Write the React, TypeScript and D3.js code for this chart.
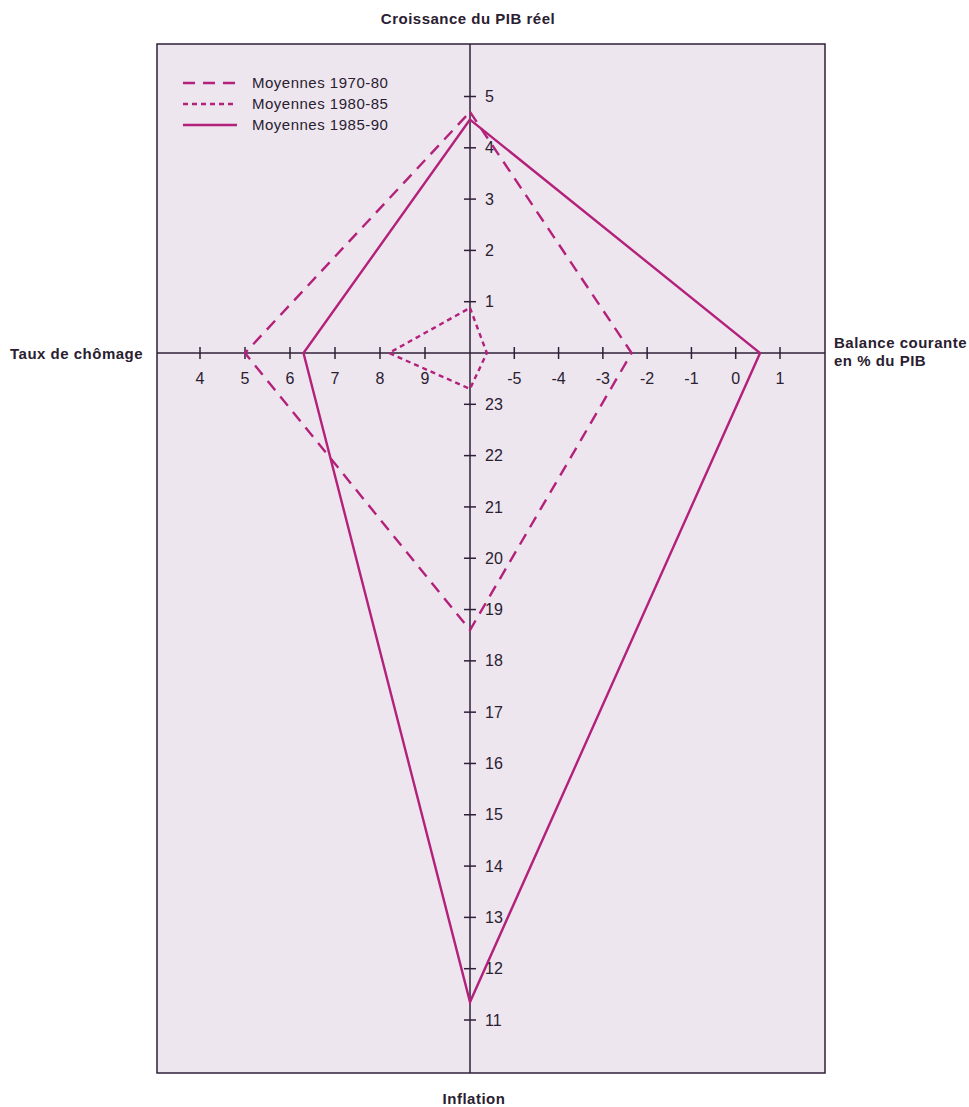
import React from "react";
import * as d3 from "d3";

const seriesNames = ["Moyennes 1970-80", "Moyennes 1980-85", "Moyennes 1985-90"];
const growth = [4.7, 0.88, 4.55];
const balance = [-2.35, -5.62, 0.55];
const inflation = [18.6, 23.3, 11.35];
const unemployment = [5.0, 8.2, 6.3];

const growthTicks = [1, 2, 3, 4, 5];
const unempTicks = [4, 5, 6, 7, 8, 9];
const balanceTicks = [-5, -4, -3, -2, -1, 0, 1];
const inflationTicks = [23, 22, 21, 20, 19, 18, 17, 16, 15, 14, 13, 12, 11];

const dashes = ["12 8", "5 4", null];

const W = 969, H = 1107;
const CX = 470, CY = 353;
const FRAME = { left: 157, right: 825, top: 44, bottom: 1073 };

const xUnemp = d3.scaleLinear().domain([10, 4]).range([CX, 200]);
const xBal = d3.scaleLinear().domain([-6, 1]).range([CX, 780]);
const yGrowth = d3.scaleLinear().domain([0, 5]).range([CY, 96.5]);
const yInfl = d3.scaleLinear().domain([24, 11]).range([CY, 1020]);

const LINE = "#b3217a";
const AXIS = "#2f1f38";
const TEXT = "#2a2030";
const FONT = "'Liberation Sans', Arial, sans-serif";

export default function App() {
  const line = d3.line<[number, number]>().curve(d3.curveLinearClosed);
  const titleProps = { fontFamily: FONT, fontWeight: "bold" as const, fontSize: 15, letterSpacing: 0.5, fill: TEXT };
  return (
    <div style={{ position: "absolute", left: 0, top: 0 }}>
      <svg width={W} height={H} style={{ display: "block", background: "#ffffff" }}>
        <rect x={FRAME.left} y={FRAME.top} width={FRAME.right - FRAME.left} height={FRAME.bottom - FRAME.top}
          fill="#ede6ef" stroke={AXIS} strokeWidth={1.5} />
        {/* axes */}
        <line x1={CX} x2={CX} y1={FRAME.top} y2={FRAME.bottom} stroke={AXIS} strokeWidth={1.5} />
        <line x1={FRAME.left} x2={FRAME.right} y1={CY} y2={CY} stroke={AXIS} strokeWidth={1.5} />
        {/* vertical ticks */}
        {growthTicks.map((t) => (
          <g key={"g" + t}>
            <line x1={CX - 6} x2={CX + 6} y1={yGrowth(t)} y2={yGrowth(t)} stroke={AXIS} strokeWidth={1.5} />
            <text x={CX + 15} y={yGrowth(t)} dy="0.35em" fontFamily={FONT} fontSize={16} fill={TEXT}>{t}</text>
          </g>
        ))}
        {inflationTicks.map((t) => (
          <g key={"i" + t}>
            <line x1={CX - 6} x2={CX + 6} y1={yInfl(t)} y2={yInfl(t)} stroke={AXIS} strokeWidth={1.5} />
            <text x={CX + 15} y={yInfl(t)} dy="0.35em" fontFamily={FONT} fontSize={16} fill={TEXT}>{t}</text>
          </g>
        ))}
        {unempTicks.map((t) => (
          <g key={"u" + t}>
            <line x1={xUnemp(t)} x2={xUnemp(t)} y1={CY - 6} y2={CY + 6} stroke={AXIS} strokeWidth={1.5} />
            <text x={xUnemp(t)} y={CY + 31} textAnchor="middle" fontFamily={FONT} fontSize={16} fill={TEXT}>{t}</text>
          </g>
        ))}
        {balanceTicks.map((t) => (
          <g key={"b" + t}>
            <line x1={xBal(t)} x2={xBal(t)} y1={CY - 6} y2={CY + 6} stroke={AXIS} strokeWidth={1.5} />
            <text x={xBal(t)} y={CY + 31} textAnchor="middle" fontFamily={FONT} fontSize={16} fill={TEXT}>{t}</text>
          </g>
        ))}
        {/* series */}
        {seriesNames.map((n, i) => {
          const pts: [number, number][] = [
            [CX, yGrowth(growth[i])],
            [xBal(balance[i]), CY],
            [CX, yInfl(inflation[i])],
            [xUnemp(unemployment[i]), CY],
          ];
          return (
            <path key={n} d={line(pts) || ""} fill="none" stroke={LINE} strokeWidth={2.4}
              strokeDasharray={dashes[i] || undefined} strokeLinejoin="miter" />
          );
        })}
        {/* legend */}
        {seriesNames.map((n, i) => (
          <g key={"l" + n}>
            <line x1={183} x2={237} y1={83 + i * 21} y2={83 + i * 21} stroke={LINE} strokeWidth={2.4}
              strokeDasharray={dashes[i] || undefined} />
            <text x={252} y={83 + i * 21} dy="0.35em" fontFamily={FONT} fontSize={15} letterSpacing={0.5} fill={TEXT}>{n}</text>
          </g>
        ))}
        {/* axis titles */}
        <text x={468} y={24} textAnchor="middle" {...titleProps}>Croissance du PIB réel</text>
        <text x={10} y={359} {...titleProps}>Taux de chômage</text>
        <text x={834} y={348} {...titleProps}>Balance courante</text>
        <text x={834} y={366} {...titleProps}>en % du PIB</text>
        <text x={474} y={1104} textAnchor="middle" {...titleProps}>Inflation</text>
      </svg>
    </div>
  );
}
